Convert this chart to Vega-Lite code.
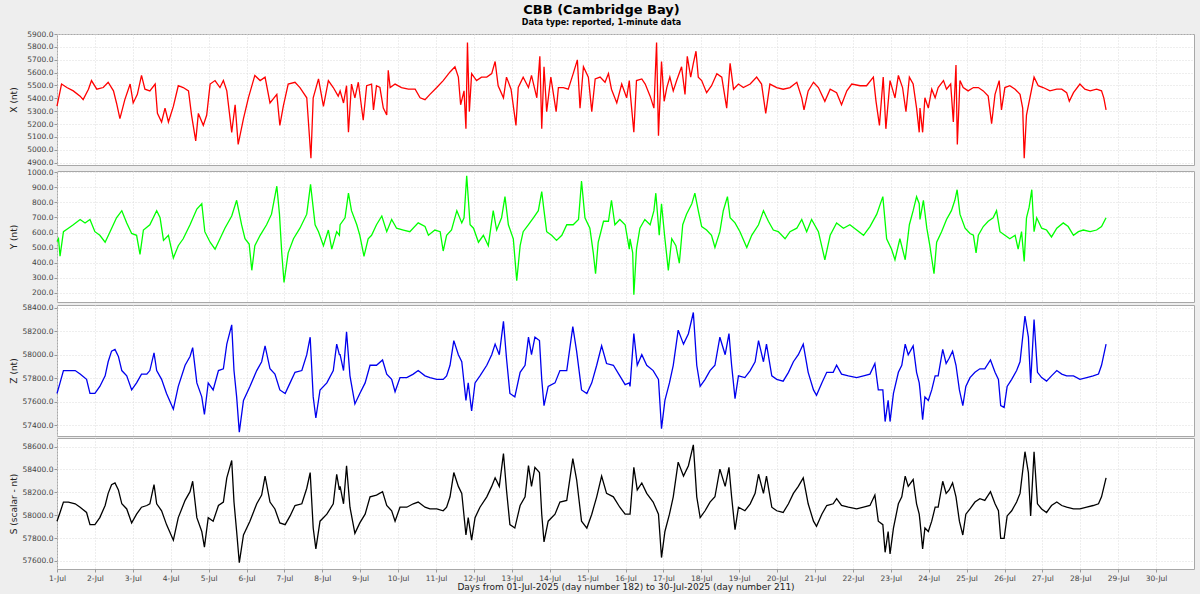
{
  "$schema": "https://vega.github.io/schema/vega-lite/v6.json",
  "background": "#eeeeee",
  "padding": {"left": 8, "right": 6, "top": 3, "bottom": 2},
  "title": {
    "text": "CBB (Cambridge Bay)",
    "subtitle": "Data type: reported, 1-minute data",
    "anchor": "middle",
    "frame": "bounds",
    "font": "DejaVu Sans",
    "fontSize": 13,
    "fontWeight": "bold",
    "color": "#000000",
    "subtitleFont": "DejaVu Sans",
    "subtitleFontSize": 8,
    "subtitleFontWeight": "bold",
    "subtitleColor": "#000000",
    "subtitlePadding": 2,
    "offset": 3
  },
  "spacing": 0,
  "config": {
    "view": {"stroke": "#a8a8a8", "fill": "#ffffff"},
    "axis": {
      "domain": false,
      "gridColor": "#dcdcdc",
      "gridDash": [1, 2],
      "tickColor": "#999999",
      "tickSize": 3,
      "labelFont": "DejaVu Sans",
      "labelFontSize": 7.5,
      "labelColor": "#444444",
      "labelPadding": 1,
      "titleFont": "DejaVu Sans",
      "titleFontSize": 9,
      "titleFontWeight": "normal",
      "titleColor": "#222222"
    },
    "line": {"strokeWidth": 1.3}
  },
  "datasets": {
    "X": [
      {"d":0.00,"v":5340},{"d":0.12,"v":5511},{"d":0.26,"v":5484},{"d":0.43,"v":5458},{"d":0.61,"v":5417},{"d":0.69,"v":5390},{"d":0.83,"v":5471},{"d":0.91,"v":5538},{"d":1.05,"v":5471},{"d":1.22,"v":5484},
      {"d":1.35,"v":5525},{"d":1.49,"v":5458},{"d":1.57,"v":5364},{"d":1.66,"v":5243},{"d":1.79,"v":5390},{"d":1.93,"v":5511},{"d":2.01,"v":5364},{"d":2.12,"v":5431},{"d":2.23,"v":5578},{"d":2.32,"v":5471},
      {"d":2.45,"v":5458},{"d":2.59,"v":5511},{"d":2.65,"v":5283},{"d":2.76,"v":5216},{"d":2.85,"v":5324},{"d":2.94,"v":5216},{"d":3.07,"v":5337},{"d":3.20,"v":5498},{"d":3.33,"v":5484},{"d":3.47,"v":5458},
      {"d":3.55,"v":5270},{"d":3.66,"v":5069},{"d":3.73,"v":5283},{"d":3.86,"v":5190},{"d":3.95,"v":5270},{"d":4.04,"v":5511},{"d":4.17,"v":5538},{"d":4.30,"v":5484},{"d":4.39,"v":5538},{"d":4.48,"v":5458},
      {"d":4.61,"v":5136},{"d":4.70,"v":5350},{"d":4.78,"v":5042},{"d":4.92,"v":5243},{"d":5.05,"v":5404},{"d":5.22,"v":5578},{"d":5.36,"v":5538},{"d":5.49,"v":5565},{"d":5.62,"v":5364},{"d":5.80,"v":5431},
      {"d":5.88,"v":5190},{"d":5.97,"v":5337},{"d":6.10,"v":5511},{"d":6.28,"v":5525},{"d":6.41,"v":5484},{"d":6.59,"v":5404},{"d":6.70,"v":4935},{"d":6.76,"v":5404},{"d":6.90,"v":5551},{"d":7.03,"v":5337},
      {"d":7.16,"v":5538},{"d":7.29,"v":5484},{"d":7.42,"v":5417},
      {"d":7.47,"v":5458},{"d":7.56,"v":5364},{"d":7.64,"v":5498},{"d":7.69,"v":5136},{"d":7.77,"v":5511},{"d":7.86,"v":5404},{"d":7.95,"v":5525},{"d":8.08,"v":5230},{"d":8.17,"v":5498},{"d":8.30,"v":5511},
      {"d":8.35,"v":5310},{"d":8.43,"v":5498},{"d":8.52,"v":5484},{"d":8.61,"v":5324},{"d":8.70,"v":5270},{"d":8.74,"v":5618},{"d":8.79,"v":5484},{"d":8.92,"v":5511},{"d":9.09,"v":5484},{"d":9.27,"v":5471},
      {"d":9.45,"v":5471},{"d":9.58,"v":5404},{"d":9.71,"v":5390},{"d":9.84,"v":5431},{"d":10.02,"v":5484},{"d":10.19,"v":5538},{"d":10.37,"v":5605},{"d":10.50,"v":5645},{"d":10.59,"v":5565},{"d":10.65,"v":5350},
      {"d":10.74,"v":5458},{"d":10.79,"v":5163},{"d":10.83,"v":5833},{"d":10.88,"v":5297},{"d":10.94,"v":5592},{"d":11.07,"v":5538},{"d":11.20,"v":5565},{"d":11.34,"v":5565},{"d":11.47,"v":5592},{"d":11.56,"v":5686},
      {"d":11.64,"v":5498},{"d":11.78,"v":5404},{"d":11.86,"v":5565},{"d":11.98,"v":5471},{"d":12.11,"v":5190},{"d":12.17,"v":5484},{"d":12.30,"v":5565},{"d":12.44,"v":5484},{"d":12.52,"v":5578},{"d":12.66,"v":5404},
      {"d":12.74,"v":5726},{"d":12.79,"v":5163},{"d":12.85,"v":5645},{"d":12.92,"v":5297},{"d":13.03,"v":5565},{"d":13.17,"v":5297},{"d":13.23,"v":5484},{"d":13.36,"v":5484},{"d":13.49,"v":5471},{"d":13.62,"v":5592},
      {"d":13.73,"v":5699},{"d":13.80,"v":5324},{"d":13.89,"v":5645},{"d":14.02,"v":5565},{"d":14.11,"v":5297},{"d":14.20,"v":5551},{"d":14.33,"v":5565},{"d":14.46,"v":5525},{"d":14.55,"v":5592},{"d":14.63,"v":5471},
      {"d":14.77,"v":5364},{"d":14.90,"v":5511},{"d":15.03,"v":5404},{"d":15.10,"v":5538},
      {"d":15.12,"v":5458},{"d":15.22,"v":5136},{"d":15.29,"v":5538},{"d":15.43,"v":5551},{"d":15.52,"v":5511},{"d":15.65,"v":5417},{"d":15.75,"v":5324},{"d":15.82,"v":5833},{"d":15.87,"v":5109},{"d":15.95,"v":5686},
      {"d":16.02,"v":5377},{"d":16.09,"v":5484},{"d":16.17,"v":5565},{"d":16.26,"v":5458},{"d":16.35,"v":5538},{"d":16.48,"v":5645},{"d":16.57,"v":5431},{"d":16.63,"v":5726},{"d":16.72,"v":5565},{"d":16.79,"v":5672},
      {"d":16.86,"v":5766},{"d":16.92,"v":5565},{"d":17.01,"v":5538},{"d":17.14,"v":5444},{"d":17.27,"v":5498},{"d":17.41,"v":5592},{"d":17.54,"v":5565},{"d":17.67,"v":5324},{"d":17.76,"v":5672},{"d":17.85,"v":5471},
      {"d":17.98,"v":5511},{"d":18.11,"v":5484},{"d":18.29,"v":5511},{"d":18.46,"v":5565},{"d":18.59,"v":5511},{"d":18.70,"v":5283},{"d":18.81,"v":5511},{"d":18.99,"v":5484},{"d":19.16,"v":5471},{"d":19.34,"v":5484},
      {"d":19.52,"v":5525},{"d":19.65,"v":5404},{"d":19.71,"v":5310},{"d":19.82,"v":5458},{"d":19.96,"v":5525},{"d":20.09,"v":5484},{"d":20.26,"v":5377},{"d":20.40,"v":5471},{"d":20.57,"v":5444},{"d":20.70,"v":5350},
      {"d":20.84,"v":5458},{"d":20.97,"v":5511},{"d":21.19,"v":5498},{"d":21.36,"v":5498},{"d":21.54,"v":5565},{"d":21.61,"v":5377},{"d":21.70,"v":5190},{"d":21.80,"v":5565},{"d":21.87,"v":5163},{"d":21.98,"v":5538},
      {"d":22.11,"v":5404},{"d":22.20,"v":5578},{"d":22.31,"v":5484},{"d":22.40,"v":5297},{"d":22.49,"v":5565},{"d":22.59,"v":5511},{"d":22.68,"v":5324},{"d":22.75,"v":5136},
      {"d":22.77,"v":5324},{"d":22.84,"v":5136},{"d":22.90,"v":5404},{"d":22.99,"v":5324},{"d":23.08,"v":5471},{"d":23.17,"v":5404},{"d":23.25,"v":5484},{"d":23.39,"v":5538},{"d":23.47,"v":5471},{"d":23.58,"v":5511},
      {"d":23.65,"v":5216},{"d":23.72,"v":5659},{"d":23.755,"v":5042},{"d":23.825,"v":5538},{"d":23.91,"v":5484},{"d":24.04,"v":5458},{"d":24.18,"v":5484},{"d":24.31,"v":5484},{"d":24.44,"v":5458},{"d":24.57,"v":5417},
      {"d":24.66,"v":5203},{"d":24.75,"v":5431},{"d":24.86,"v":5538},{"d":24.92,"v":5310},{"d":25.01,"v":5484},{"d":25.14,"v":5498},{"d":25.28,"v":5471},{"d":25.41,"v":5431},{"d":25.48,"v":5324},{"d":25.52,"v":4935},
      {"d":25.58,"v":5270},{"d":25.67,"v":5404},{"d":25.78,"v":5565},{"d":25.89,"v":5498},{"d":26.02,"v":5484},{"d":26.20,"v":5458},{"d":26.38,"v":5471},{"d":26.51,"v":5471},{"d":26.64,"v":5444},{"d":26.71,"v":5377},
      {"d":26.82,"v":5444},{"d":26.99,"v":5511},{"d":27.12,"v":5471},{"d":27.26,"v":5458},{"d":27.43,"v":5471},{"d":27.56,"v":5458},{"d":27.62,"v":5404},{"d":27.68,"v":5310}
    ],
    "Y": [
      {"d":0.00,"v":540},{"d":0.04,"v":559},{"d":0.08,"v":443},{"d":0.17,"v":606},{"d":0.30,"v":629},{"d":0.43,"v":652},{"d":0.61,"v":687},{"d":0.74,"v":664},{"d":0.87,"v":687},{"d":1.00,"v":606},
      {"d":1.13,"v":582},{"d":1.27,"v":536},{"d":1.40,"v":606},{"d":1.57,"v":698},{"d":1.71,"v":745},{"d":1.84,"v":664},{"d":1.97,"v":594},{"d":2.10,"v":582},{"d":2.19,"v":455},{"d":2.28,"v":617},
      {"d":2.45,"v":652},{"d":2.63,"v":745},{"d":2.72,"v":698},{"d":2.81,"v":548},{"d":2.94,"v":582},{"d":3.07,"v":432},{"d":3.20,"v":513},{"d":3.33,"v":559},{"d":3.51,"v":652},{"d":3.69,"v":756},
      {"d":3.82,"v":791},{"d":3.90,"v":606},{"d":4.04,"v":536},{"d":4.17,"v":490},{"d":4.30,"v":559},{"d":4.43,"v":629},{"d":4.61,"v":710},{"d":4.74,"v":814},{"d":4.87,"v":652},{"d":4.96,"v":559},
      {"d":5.07,"v":524},{"d":5.14,"v":350},{"d":5.22,"v":513},{"d":5.36,"v":582},{"d":5.53,"v":652},{"d":5.66,"v":722},{"d":5.80,"v":907},{"d":5.87,"v":722},{"d":5.93,"v":466},{"d":5.99,"v":269},
      {"d":6.10,"v":466},{"d":6.24,"v":559},{"d":6.41,"v":629},{"d":6.59,"v":722},{"d":6.69,"v":919},{"d":6.81,"v":652},{"d":6.90,"v":606},{"d":7.03,"v":513},{"d":7.16,"v":617},{"d":7.25,"v":490},
      {"d":7.38,"v":606},{"d":7.45,"v":582},
      {"d":7.47,"v":652},{"d":7.60,"v":698},{"d":7.69,"v":861},{"d":7.77,"v":745},{"d":7.91,"v":652},{"d":7.99,"v":582},{"d":8.10,"v":443},{"d":8.21,"v":559},{"d":8.30,"v":582},{"d":8.43,"v":652},
      {"d":8.57,"v":710},{"d":8.70,"v":606},{"d":8.83,"v":687},{"d":8.96,"v":629},{"d":9.14,"v":617},{"d":9.31,"v":606},{"d":9.53,"v":664},{"d":9.71,"v":640},{"d":9.80,"v":582},{"d":9.97,"v":617},
      {"d":10.11,"v":606},{"d":10.19,"v":478},{"d":10.28,"v":582},{"d":10.41,"v":617},{"d":10.55,"v":745},{"d":10.68,"v":664},{"d":10.74,"v":698},{"d":10.81,"v":977},{"d":10.90,"v":652},{"d":10.99,"v":629},
      {"d":11.12,"v":536},{"d":11.25,"v":582},{"d":11.38,"v":513},{"d":11.51,"v":745},{"d":11.60,"v":617},{"d":11.73,"v":698},{"d":11.82,"v":838},{"d":11.91,"v":652},{"d":12.04,"v":559},{"d":12.13,"v":281},
      {"d":12.22,"v":513},{"d":12.30,"v":606},{"d":12.44,"v":652},{"d":12.57,"v":698},{"d":12.70,"v":745},{"d":12.79,"v":872},{"d":12.85,"v":745},{"d":12.92,"v":606},{"d":13.05,"v":582},{"d":13.18,"v":548},
      {"d":13.32,"v":582},{"d":13.45,"v":652},{"d":13.62,"v":652},{"d":13.76,"v":687},{"d":13.84,"v":942},{"d":13.93,"v":698},{"d":14.06,"v":629},{"d":14.15,"v":466},{"d":14.21,"v":327},{"d":14.28,"v":536},
      {"d":14.42,"v":675},{"d":14.55,"v":675},{"d":14.63,"v":814},{"d":14.72,"v":652},{"d":14.85,"v":687},{"d":14.99,"v":652},{"d":15.10,"v":490},
      {"d":15.12,"v":559},{"d":15.19,"v":466},{"d":15.22,"v":188},{"d":15.29,"v":490},{"d":15.38,"v":629},{"d":15.51,"v":687},{"d":15.65,"v":652},{"d":15.75,"v":745},{"d":15.80,"v":861},{"d":15.89,"v":582},
      {"d":15.95,"v":791},{"d":16.04,"v":559},{"d":16.13,"v":350},{"d":16.22,"v":559},{"d":16.33,"v":513},{"d":16.42,"v":397},{"d":16.51,"v":652},{"d":16.61,"v":722},{"d":16.75,"v":791},{"d":16.83,"v":861},
      {"d":16.92,"v":745},{"d":17.01,"v":640},{"d":17.14,"v":617},{"d":17.27,"v":582},{"d":17.36,"v":501},{"d":17.49,"v":606},{"d":17.58,"v":745},{"d":17.69,"v":838},{"d":17.76,"v":698},{"d":17.89,"v":664},
      {"d":18.02,"v":606},{"d":18.20,"v":501},{"d":18.33,"v":582},{"d":18.51,"v":652},{"d":18.64,"v":745},{"d":18.77,"v":675},{"d":18.90,"v":617},{"d":19.03,"v":606},{"d":19.21,"v":559},{"d":19.34,"v":606},
      {"d":19.52,"v":629},{"d":19.65,"v":687},{"d":19.78,"v":606},{"d":19.91,"v":687},{"d":20.09,"v":606},{"d":20.26,"v":420},{"d":20.40,"v":582},{"d":20.57,"v":664},{"d":20.75,"v":629},{"d":20.92,"v":652},
      {"d":21.10,"v":617},{"d":21.28,"v":582},{"d":21.45,"v":640},{"d":21.63,"v":722},{"d":21.79,"v":838},{"d":21.89,"v":559},{"d":22.02,"v":490},{"d":22.11,"v":420},{"d":22.24,"v":559},{"d":22.38,"v":420},
      {"d":22.49,"v":652},{"d":22.59,"v":745},{"d":22.68,"v":838},{"d":22.75,"v":791},
      {"d":22.77,"v":687},{"d":22.86,"v":814},{"d":22.95,"v":629},{"d":23.03,"v":513},{"d":23.14,"v":327},{"d":23.21,"v":536},{"d":23.34,"v":606},{"d":23.47,"v":687},{"d":23.60,"v":745},{"d":23.69,"v":814},
      {"d":23.75,"v":884},{"d":23.825,"v":722},{"d":23.96,"v":629},{"d":24.09,"v":594},{"d":24.18,"v":582},{"d":24.25,"v":466},{"d":24.31,"v":582},{"d":24.44,"v":640},{"d":24.57,"v":675},{"d":24.70,"v":698},
      {"d":24.79,"v":745},{"d":24.88,"v":606},{"d":25.01,"v":582},{"d":25.14,"v":559},{"d":25.28,"v":582},{"d":25.36,"v":490},{"d":25.45,"v":606},{"d":25.52,"v":408},{"d":25.58,"v":698},{"d":25.65,"v":768},
      {"d":25.72,"v":884},{"d":25.78,"v":606},{"d":25.85,"v":698},{"d":25.98,"v":629},{"d":26.11,"v":617},{"d":26.24,"v":571},{"d":26.38,"v":629},{"d":26.55,"v":664},{"d":26.68,"v":640},{"d":26.82,"v":582},
      {"d":26.95,"v":606},{"d":27.08,"v":617},{"d":27.26,"v":606},{"d":27.43,"v":617},{"d":27.56,"v":640},{"d":27.68,"v":698}
    ],
    "Z": [
      {"d":0.00,"v":57672},{"d":0.08,"v":57762},{"d":0.17,"v":57867},{"d":0.30,"v":57867},{"d":0.48,"v":57867},{"d":0.61,"v":57837},{"d":0.78,"v":57792},{"d":0.87,"v":57672},{"d":1.00,"v":57672},{"d":1.13,"v":57732},
      {"d":1.27,"v":57822},{"d":1.35,"v":57942},{"d":1.44,"v":58032},{"d":1.53,"v":58047},{"d":1.62,"v":57987},{"d":1.71,"v":57867},{"d":1.84,"v":57822},{"d":1.97,"v":57702},{"d":2.10,"v":57762},{"d":2.23,"v":57837},
      {"d":2.37,"v":57837},{"d":2.45,"v":57867},{"d":2.56,"v":58017},{"d":2.63,"v":57867},{"d":2.76,"v":57792},{"d":2.89,"v":57672},{"d":3.07,"v":57538},{"d":3.20,"v":57732},{"d":3.38,"v":57912},{"d":3.51,"v":57987},
      {"d":3.58,"v":58062},{"d":3.69,"v":57762},{"d":3.82,"v":57643},{"d":3.89,"v":57493},{"d":3.99,"v":57762},{"d":4.12,"v":57702},{"d":4.26,"v":57867},{"d":4.39,"v":57882},{"d":4.48,"v":58092},{"d":4.61,"v":58256},
      {"d":4.67,"v":57867},{"d":4.74,"v":57643},{"d":4.81,"v":57343},{"d":4.92,"v":57613},{"d":5.09,"v":57732},{"d":5.27,"v":57867},{"d":5.40,"v":57942},{"d":5.49,"v":58077},{"d":5.62,"v":57882},{"d":5.75,"v":57837},
      {"d":5.88,"v":57702},{"d":6.02,"v":57672},{"d":6.15,"v":57762},{"d":6.28,"v":57852},{"d":6.46,"v":57867},{"d":6.59,"v":58002},{"d":6.68,"v":58151},{"d":6.76,"v":57643},{"d":6.83,"v":57463},{"d":6.94,"v":57702},
      {"d":7.12,"v":57762},{"d":7.29,"v":57867},{"d":7.38,"v":58092},{"d":7.45,"v":58002},
      {"d":7.47,"v":58002},{"d":7.56,"v":57867},{"d":7.64,"v":58196},{"d":7.73,"v":57822},{"d":7.86,"v":57583},{"d":7.99,"v":57672},{"d":8.13,"v":57762},{"d":8.26,"v":57912},{"d":8.43,"v":57912},{"d":8.59,"v":57957},
      {"d":8.70,"v":57837},{"d":8.83,"v":57792},{"d":8.92,"v":57687},{"d":9.05,"v":57807},{"d":9.23,"v":57807},{"d":9.40,"v":57837},{"d":9.53,"v":57867},{"d":9.71,"v":57822},{"d":9.84,"v":57807},{"d":10.02,"v":57792},
      {"d":10.19,"v":57792},{"d":10.28,"v":57822},{"d":10.37,"v":57912},{"d":10.47,"v":58122},{"d":10.59,"v":58002},{"d":10.68,"v":57942},{"d":10.79,"v":57613},{"d":10.85,"v":57762},{"d":10.94,"v":57523},{"d":11.03,"v":57762},
      {"d":11.16,"v":57822},{"d":11.34,"v":57912},{"d":11.47,"v":58002},{"d":11.56,"v":58092},{"d":11.67,"v":58002},{"d":11.78,"v":58286},{"d":11.86,"v":57972},{"d":11.95,"v":57672},{"d":12.08,"v":57643},{"d":12.22,"v":57852},
      {"d":12.35,"v":57912},{"d":12.44,"v":58151},{"d":12.52,"v":58002},{"d":12.61,"v":58151},{"d":12.73,"v":58122},{"d":12.79,"v":57792},{"d":12.85,"v":57568},{"d":12.96,"v":57732},{"d":13.14,"v":57762},{"d":13.27,"v":57867},
      {"d":13.45,"v":57867},{"d":13.61,"v":58241},{"d":13.71,"v":58032},{"d":13.84,"v":57702},{"d":13.98,"v":57672},{"d":14.11,"v":57762},{"d":14.24,"v":57912},{"d":14.37,"v":58077},{"d":14.50,"v":57927},{"d":14.68,"v":57912},
      {"d":14.85,"v":57822},{"d":14.99,"v":57747},{"d":15.10,"v":57762},
      {"d":15.12,"v":57732},{"d":15.22,"v":58181},{"d":15.31,"v":57912},{"d":15.43,"v":58002},{"d":15.56,"v":57912},{"d":15.73,"v":57867},{"d":15.87,"v":57792},{"d":15.95,"v":57373},{"d":16.04,"v":57613},{"d":16.16,"v":57762},
      {"d":16.26,"v":57912},{"d":16.39,"v":58211},{"d":16.53,"v":58092},{"d":16.66,"v":58181},{"d":16.79,"v":58361},{"d":16.88,"v":57912},{"d":16.97,"v":57732},{"d":17.10,"v":57792},{"d":17.23,"v":57867},{"d":17.36,"v":57912},
      {"d":17.49,"v":58151},{"d":17.63,"v":58002},{"d":17.73,"v":58181},{"d":17.80,"v":57912},{"d":17.89,"v":57628},{"d":17.98,"v":57822},{"d":18.15,"v":57807},{"d":18.29,"v":57867},{"d":18.42,"v":57942},{"d":18.51,"v":58122},
      {"d":18.64,"v":57942},{"d":18.72,"v":58092},{"d":18.86,"v":57822},{"d":18.99,"v":57792},{"d":19.16,"v":57777},{"d":19.30,"v":57852},{"d":19.43,"v":57942},{"d":19.56,"v":58002},{"d":19.69,"v":58092},{"d":19.82,"v":57852},
      {"d":19.96,"v":57702},{"d":20.04,"v":57657},{"d":20.18,"v":57762},{"d":20.31,"v":57852},{"d":20.48,"v":57852},{"d":20.57,"v":57912},{"d":20.70,"v":57837},{"d":20.88,"v":57822},{"d":21.10,"v":57807},{"d":21.28,"v":57822},
      {"d":21.45,"v":57837},{"d":21.58,"v":57927},{"d":21.67,"v":57702},{"d":21.79,"v":57702},{"d":21.85,"v":57433},{"d":21.93,"v":57613},{"d":21.98,"v":57433},{"d":22.07,"v":57672},{"d":22.20,"v":57852},{"d":22.29,"v":57912},
      {"d":22.38,"v":58092},{"d":22.46,"v":58002},{"d":22.59,"v":58077},{"d":22.68,"v":57852},{"d":22.75,"v":57762},
      {"d":22.77,"v":57702},{"d":22.84,"v":57448},{"d":22.90,"v":57643},{"d":22.99,"v":57613},{"d":23.08,"v":57702},{"d":23.17,"v":57822},{"d":23.25,"v":57822},{"d":23.37,"v":58047},{"d":23.46,"v":57927},{"d":23.54,"v":57972},
      {"d":23.63,"v":58032},{"d":23.72,"v":57912},{"d":23.81,"v":57702},{"d":23.90,"v":57568},{"d":23.98,"v":57732},{"d":24.09,"v":57807},{"d":24.22,"v":57852},{"d":24.35,"v":57882},{"d":24.48,"v":57882},{"d":24.63,"v":57957},
      {"d":24.75,"v":57852},{"d":24.84,"v":57792},{"d":24.90,"v":57568},{"d":24.99,"v":57553},{"d":25.07,"v":57732},{"d":25.19,"v":57792},{"d":25.32,"v":57867},{"d":25.41,"v":57942},{"d":25.54,"v":58331},{"d":25.63,"v":58151},
      {"d":25.69,"v":57762},{"d":25.78,"v":58301},{"d":25.87,"v":57852},{"d":25.98,"v":57807},{"d":26.11,"v":57777},{"d":26.24,"v":57822},{"d":26.38,"v":57867},{"d":26.51,"v":57837},{"d":26.64,"v":57822},{"d":26.82,"v":57822},
      {"d":26.99,"v":57792},{"d":27.17,"v":57807},{"d":27.34,"v":57822},{"d":27.48,"v":57837},{"d":27.56,"v":57912},{"d":27.68,"v":58092}
    ],
    "S": [
      {"d":0.00,"v":57948},{"d":0.08,"v":58024},{"d":0.17,"v":58115},{"d":0.30,"v":58115},{"d":0.48,"v":58100},{"d":0.61,"v":58070},{"d":0.78,"v":58024},{"d":0.87,"v":57918},{"d":1.00,"v":57918},{"d":1.13,"v":57979},
      {"d":1.27,"v":58085},{"d":1.35,"v":58191},{"d":1.44,"v":58267},{"d":1.53,"v":58282},{"d":1.62,"v":58221},{"d":1.71,"v":58100},{"d":1.84,"v":58055},{"d":1.97,"v":57933},{"d":2.10,"v":58009},{"d":2.23,"v":58070},
      {"d":2.37,"v":58085},{"d":2.45,"v":58100},{"d":2.56,"v":58267},{"d":2.63,"v":58100},{"d":2.76,"v":58039},{"d":2.89,"v":57918},{"d":3.07,"v":57782},{"d":3.20,"v":57979},{"d":3.38,"v":58130},{"d":3.51,"v":58206},
      {"d":3.58,"v":58297},{"d":3.69,"v":57979},{"d":3.82,"v":57858},{"d":3.89,"v":57721},{"d":3.99,"v":57979},{"d":4.12,"v":57948},{"d":4.26,"v":58085},{"d":4.39,"v":58115},{"d":4.48,"v":58327},{"d":4.61,"v":58479},
      {"d":4.67,"v":58115},{"d":4.74,"v":57858},{"d":4.81,"v":57585},{"d":4.92,"v":57827},{"d":5.09,"v":57948},{"d":5.27,"v":58100},{"d":5.40,"v":58176},{"d":5.49,"v":58342},{"d":5.62,"v":58115},{"d":5.75,"v":58055},
      {"d":5.88,"v":57933},{"d":6.02,"v":57918},{"d":6.15,"v":57994},{"d":6.28,"v":58085},{"d":6.46,"v":58100},{"d":6.59,"v":58236},{"d":6.68,"v":58373},{"d":6.76,"v":57888},{"d":6.83,"v":57706},{"d":6.94,"v":57948},
      {"d":7.12,"v":58009},{"d":7.29,"v":58100},{"d":7.38,"v":58358},{"d":7.45,"v":58221},
      {"d":7.47,"v":58252},{"d":7.56,"v":58100},{"d":7.64,"v":58433},{"d":7.73,"v":58070},{"d":7.86,"v":57842},{"d":7.99,"v":57933},{"d":8.13,"v":58009},{"d":8.26,"v":58161},{"d":8.43,"v":58176},{"d":8.59,"v":58206},
      {"d":8.70,"v":58085},{"d":8.83,"v":58039},{"d":8.92,"v":57948},{"d":9.05,"v":58070},{"d":9.23,"v":58070},{"d":9.40,"v":58100},{"d":9.53,"v":58115},{"d":9.71,"v":58070},{"d":9.84,"v":58055},{"d":10.02,"v":58055},
      {"d":10.19,"v":58039},{"d":10.28,"v":58070},{"d":10.37,"v":58161},{"d":10.47,"v":58373},{"d":10.59,"v":58252},{"d":10.68,"v":58191},{"d":10.79,"v":57827},{"d":10.85,"v":57979},{"d":10.94,"v":57782},{"d":11.03,"v":57979},
      {"d":11.16,"v":58070},{"d":11.34,"v":58161},{"d":11.47,"v":58252},{"d":11.56,"v":58327},{"d":11.67,"v":58252},{"d":11.78,"v":58539},{"d":11.86,"v":58221},{"d":11.95,"v":57918},{"d":12.08,"v":57888},{"d":12.22,"v":58085},
      {"d":12.35,"v":58161},{"d":12.44,"v":58433},{"d":12.52,"v":58252},{"d":12.61,"v":58418},{"d":12.73,"v":58373},{"d":12.79,"v":58009},{"d":12.85,"v":57767},{"d":12.96,"v":57948},{"d":13.14,"v":58009},{"d":13.27,"v":58115},
      {"d":13.45,"v":58130},{"d":13.61,"v":58494},{"d":13.71,"v":58312},{"d":13.84,"v":57948},{"d":13.98,"v":57888},{"d":14.11,"v":58009},{"d":14.24,"v":58161},{"d":14.37,"v":58342},{"d":14.50,"v":58191},{"d":14.68,"v":58161},
      {"d":14.85,"v":58070},{"d":14.99,"v":58009},{"d":15.10,"v":58009},
      {"d":15.12,"v":58009},{"d":15.22,"v":58418},{"d":15.31,"v":58221},{"d":15.43,"v":58282},{"d":15.56,"v":58191},{"d":15.73,"v":58115},{"d":15.87,"v":58009},{"d":15.95,"v":57630},{"d":16.04,"v":57858},{"d":16.16,"v":58009},
      {"d":16.26,"v":58161},{"d":16.39,"v":58464},{"d":16.53,"v":58342},{"d":16.66,"v":58433},{"d":16.79,"v":58615},{"d":16.88,"v":58161},{"d":16.97,"v":57979},{"d":17.10,"v":58039},{"d":17.23,"v":58115},{"d":17.36,"v":58161},
      {"d":17.49,"v":58403},{"d":17.63,"v":58252},{"d":17.73,"v":58418},{"d":17.80,"v":58161},{"d":17.89,"v":57873},{"d":17.98,"v":58070},{"d":18.15,"v":58039},{"d":18.29,"v":58100},{"d":18.42,"v":58191},{"d":18.51,"v":58358},
      {"d":18.64,"v":58191},{"d":18.72,"v":58342},{"d":18.86,"v":58070},{"d":18.99,"v":58039},{"d":19.16,"v":58024},{"d":19.30,"v":58100},{"d":19.43,"v":58191},{"d":19.56,"v":58252},{"d":19.69,"v":58327},{"d":19.82,"v":58100},
      {"d":19.96,"v":57948},{"d":20.04,"v":57903},{"d":20.18,"v":58009},{"d":20.31,"v":58085},{"d":20.48,"v":58100},{"d":20.57,"v":58145},{"d":20.70,"v":58085},{"d":20.88,"v":58070},{"d":21.10,"v":58055},{"d":21.28,"v":58070},
      {"d":21.45,"v":58085},{"d":21.58,"v":58176},{"d":21.67,"v":57948},{"d":21.79,"v":57918},{"d":21.85,"v":57676},{"d":21.93,"v":57858},{"d":21.98,"v":57661},{"d":22.07,"v":57888},{"d":22.20,"v":58100},{"d":22.29,"v":58161},
      {"d":22.38,"v":58342},{"d":22.46,"v":58252},{"d":22.59,"v":58312},{"d":22.68,"v":58100},{"d":22.75,"v":58009},
      {"d":22.77,"v":57948},{"d":22.84,"v":57706},{"d":22.90,"v":57888},{"d":22.99,"v":57858},{"d":23.08,"v":57948},{"d":23.17,"v":58070},{"d":23.25,"v":58070},{"d":23.37,"v":58297},{"d":23.46,"v":58191},{"d":23.54,"v":58221},
      {"d":23.63,"v":58282},{"d":23.72,"v":58161},{"d":23.81,"v":57948},{"d":23.90,"v":57827},{"d":23.98,"v":58009},{"d":24.09,"v":58055},{"d":24.22,"v":58115},{"d":24.35,"v":58145},{"d":24.48,"v":58130},{"d":24.63,"v":58206},
      {"d":24.75,"v":58100},{"d":24.84,"v":58039},{"d":24.90,"v":57797},{"d":24.99,"v":57797},{"d":25.07,"v":57994},{"d":25.19,"v":58039},{"d":25.32,"v":58115},{"d":25.41,"v":58191},{"d":25.54,"v":58555},{"d":25.63,"v":58373},
      {"d":25.69,"v":57994},{"d":25.78,"v":58555},{"d":25.87,"v":58100},{"d":25.98,"v":58055},{"d":26.11,"v":58024},{"d":26.24,"v":58085},{"d":26.38,"v":58115},{"d":26.51,"v":58085},{"d":26.64,"v":58070},{"d":26.82,"v":58055},
      {"d":26.99,"v":58055},{"d":27.17,"v":58070},{"d":27.34,"v":58085},{"d":27.48,"v":58100},{"d":27.56,"v":58161},{"d":27.68,"v":58327}
    ]
  },
  "vconcat": [
    {
      "width": 1137,
      "height": 131,
      "data": {"name": "X"},
      "mark": {"type": "line", "color": "#ff0000"},
      "encoding": {
        "x": {"field": "d", "type": "quantitative", "scale": {"domain": [0, 30], "nice": false, "zero": false},
              "axis": {"values": [0,1,2,3,4,5,6,7,8,9,10,11,12,13,14,15,16,17,18,19,20,21,22,23,24,25,26,27,28,29], "labels": false, "ticks": false, "title": null, "minExtent": 0, "maxExtent": 0, "labelPadding": 0, "offset": 0}},
        "y": {"field": "v", "type": "quantitative", "scale": {"domain": [4882, 5900], "nice": false, "zero": false},
              "axis": {"values": [4900,5000,5100,5200,5300,5400,5500,5600,5700,5800,5900], "format": ".1f", "title": "X (nt)", "minExtent": 33, "maxExtent": 33, "titlePadding": 6}}
      }
    },
    {
      "width": 1137,
      "height": 131,
      "data": {"name": "Y"},
      "mark": {"type": "line", "color": "#00ff00"},
      "encoding": {
        "x": {"field": "d", "type": "quantitative", "scale": {"domain": [0, 30], "nice": false, "zero": false},
              "axis": {"values": [0,1,2,3,4,5,6,7,8,9,10,11,12,13,14,15,16,17,18,19,20,21,22,23,24,25,26,27,28,29], "labels": false, "ticks": false, "title": null, "minExtent": 0, "maxExtent": 0, "labelPadding": 0, "offset": 0}},
        "y": {"field": "v", "type": "quantitative", "scale": {"domain": [140, 1008], "nice": false, "zero": false},
              "axis": {"values": [200,300,400,500,600,700,800,900,1000], "format": ".1f", "title": "Y (nt)", "minExtent": 33, "maxExtent": 33, "titlePadding": 6}}
      }
    },
    {
      "width": 1137,
      "height": 131,
      "data": {"name": "Z"},
      "mark": {"type": "line", "color": "#0000ee"},
      "encoding": {
        "x": {"field": "d", "type": "quantitative", "scale": {"domain": [0, 30], "nice": false, "zero": false},
              "axis": {"values": [0,1,2,3,4,5,6,7,8,9,10,11,12,13,14,15,16,17,18,19,20,21,22,23,24,25,26,27,28,29], "labels": false, "ticks": false, "title": null, "minExtent": 0, "maxExtent": 0, "labelPadding": 0, "offset": 0}},
        "y": {"field": "v", "type": "quantitative", "scale": {"domain": [57310, 58425], "nice": false, "zero": false},
              "axis": {"values": [57400,57600,57800,58000,58200,58400], "format": ".1f", "title": "Z (nt)", "minExtent": 33, "maxExtent": 33, "titlePadding": 6}}
      }
    },
    {
      "width": 1137,
      "height": 131,
      "data": {"name": "S"},
      "mark": {"type": "line", "color": "#000000"},
      "encoding": {
        "x": {"field": "d", "type": "quantitative", "scale": {"domain": [0, 30], "nice": false, "zero": false},
              "axis": {"values": [0,1,2,3,4,5,6,7,8,9,10,11,12,13,14,15,16,17,18,19,20,21,22,23,24,25,26,27,28,29], "labelExpr": "(datum.value + 1) + '-Jul'", "labelFlush": false, "labelPadding": 2,
                       "title": "Days from 01-Jul-2025 (day number 182) to 30-Jul-2025 (day number 211)", "titlePadding": 1}},
        "y": {"field": "v", "type": "quantitative", "scale": {"domain": [57530, 58675], "nice": false, "zero": false},
              "axis": {"values": [57600,57800,58000,58200,58400,58600], "format": ".1f", "title": "S (scalar - nt)", "minExtent": 33, "maxExtent": 33, "titlePadding": 6}}
      }
    }
  ]
}
